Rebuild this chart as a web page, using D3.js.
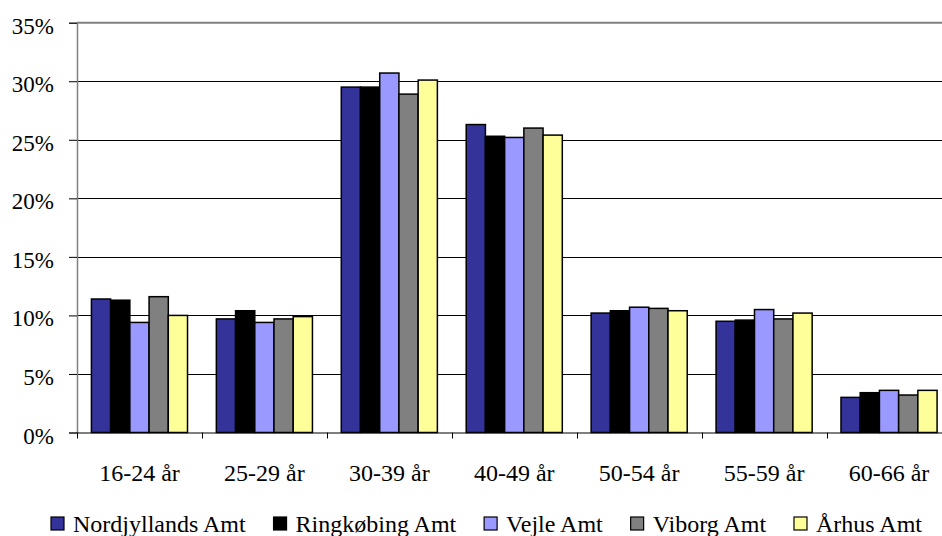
<!DOCTYPE html>
<html>
<head>
<meta charset="utf-8">
<script src="https://cdn.jsdelivr.net/npm/d3@7"></script>
<style>
  html, body { margin: 0; padding: 0; background: #fff; }
  svg { display: block; }
</style>
</head>
<body>
<svg id="chart" width="942" height="536" style="font-family: Liberation Serif"></svg>
<script>
const categories = ["16-24 år", "25-29 år", "30-39 år", "40-49 år", "50-54 år", "55-59 år", "60-66 år"];
const seriesNames = ["Nordjyllands Amt", "Ringkøbing Amt", "Vejle Amt", "Viborg Amt", "Århus Amt"];
const seriesColors = ["#333399", "#000000", "#9999FF", "#808080", "#FFFF99"];
const nordjyllands = [11.4, 9.7, 29.5, 26.3, 10.2, 9.5, 3.0];
const ringkobing   = [11.3, 10.4, 29.5, 25.3, 10.4, 9.6, 3.4];
const vejle        = [9.4, 9.4, 30.7, 25.2, 10.7, 10.5, 3.6];
const viborg       = [11.6, 9.7, 28.9, 26.0, 10.6, 9.7, 3.2];
const aarhus       = [10.0, 9.9, 30.1, 25.4, 10.4, 10.2, 3.6];
const yTicks = [0, 5, 10, 15, 20, 25, 30, 35];

const seriesValues = [nordjyllands, ringkobing, vejle, viborg, aarhus];
const FONT = "Liberation Serif";

const svg = d3.select("#chart");
const mLeft = 77, mRight = 951.5, mTop = 22.7, mBottom = 432.5;

const x0 = d3.scaleBand().domain(categories).range([mLeft, mRight]).padding(0);
const x1 = d3.scaleBand().domain(seriesNames).range([0, x0.bandwidth()]).paddingInner(0).paddingOuter(0.75);
const y = d3.scaleLinear().domain([0, 35]).range([mBottom, mTop]);

// gridlines
svg.append("g").selectAll("line").data(yTicks.filter(d => d > 0 && d < 35)).join("line")
  .attr("x1", mLeft).attr("x2", 942)
  .attr("y1", d => Math.round(y(d)) + 0.5).attr("y2", d => Math.round(y(d)) + 0.5)
  .attr("stroke", "#000").attr("stroke-width", 1);

// top border
svg.append("line").attr("x1", mLeft).attr("x2", 942)
  .attr("y1", y(35)).attr("y2", y(35))
  .attr("stroke", "#808080").attr("stroke-width", 2);

// bars
const groups = svg.append("g").selectAll("g").data(categories).join("g")
  .attr("transform", d => `translate(${x0(d)},0)`);
groups.selectAll("rect")
  .data((c, ci) => seriesNames.map((s, si) => ({ s, si, v: seriesValues[si][ci] })))
  .join("rect")
  .attr("x", d => x1(d.s))
  .attr("width", x1.bandwidth())
  .attr("y", d => y(d.v))
  .attr("height", d => y(0) - y(d.v))
  .attr("fill", d => seriesColors[d.si])
  .attr("stroke", "#000").attr("stroke-width", 1.5);

// y axis
const yAxis = d3.axisLeft(y).tickValues(yTicks).tickSize(8).tickPadding(15)
  .tickFormat(d => d + "%");
const yg = svg.append("g").attr("transform", `translate(${mLeft},0)`).call(yAxis)
  .attr("font-family", FONT).attr("font-size", 23);
yg.select(".domain").attr("stroke", "#808080").attr("stroke-width", 1.5);
yg.selectAll(".tick line").attr("stroke", "#000");
yg.selectAll(".tick text").style("font-family", FONT).style("font-size", "23px")
  .attr("fill", "#000").attr("dy", 10.5);

// x axis
const xAxis = d3.axisBottom(x0).tickSize(0).tickPadding(0);
const xg = svg.append("g").attr("transform", `translate(0,${mBottom})`).call(xAxis)
  .attr("font-family", FONT).attr("font-size", 24);
xg.select(".domain").attr("stroke", "#000").attr("stroke-width", 1.2).attr("d", `M${mLeft},0.5H942`);
xg.selectAll(".tick text").style("font-family", FONT).style("font-size", "24px")
  .attr("fill", "#000").attr("y", 48.5).attr("dy", 0);
// tick marks between categories
const bounds = categories.map(c => x0(c));
svg.append("g").selectAll("line").data(bounds).join("line")
  .attr("x1", d => Math.round(d) + 0.5).attr("x2", d => Math.round(d) + 0.5)
  .attr("y1", mBottom).attr("y2", mBottom + 6)
  .attr("stroke", "#000").attr("stroke-width", 1);

// legend
const legend = svg.append("g").attr("font-family", FONT).attr("font-size", 24);
const items = legend.selectAll("g").data(seriesNames).join("g");
items.append("rect").attr("width", 13).attr("height", 13).attr("y", 517)
  .attr("fill", (d, i) => seriesColors[i]).attr("stroke", "#000").attr("stroke-width", 1.2);
items.append("text").attr("x", 22).attr("y", 531.5)
  .style("font-family", FONT).style("font-size", "24px").attr("fill", "#000").text(d => d);
let widths = [];
items.each(function() { widths.push(d3.select(this).select("text").node().getComputedTextLength()); });
const legStart = 51, legEnd = 922;
const itemsWidth = widths.reduce((a, w) => a + 22 + w, 0);
const itemGap = (legEnd - legStart - itemsWidth) / (widths.length - 1);
let cx = legStart;
items.each(function(d, i) {
  d3.select(this).attr("transform", `translate(${cx},0)`);
  cx += 22 + widths[i] + itemGap;
});
</script>
</body>
</html>
